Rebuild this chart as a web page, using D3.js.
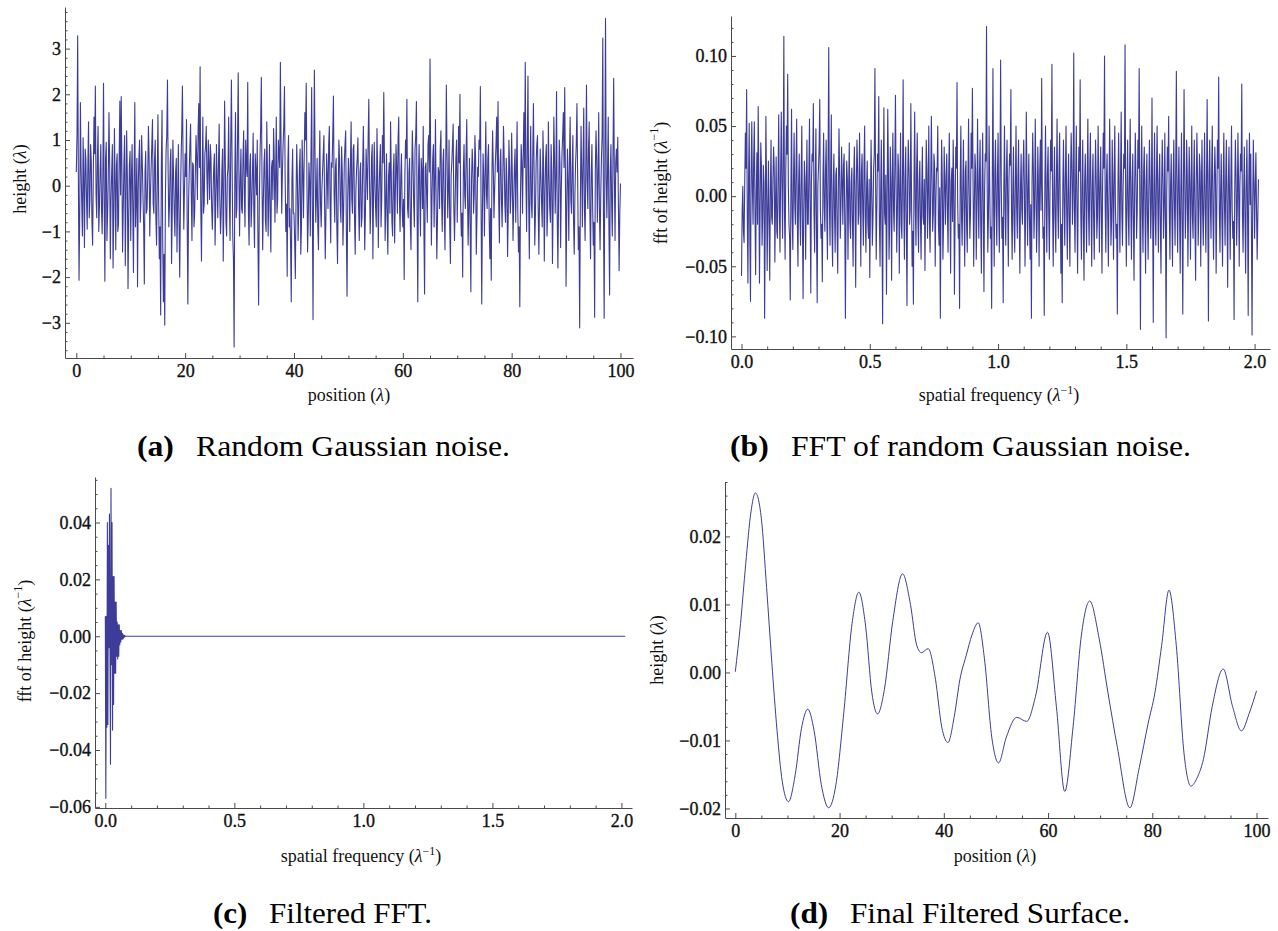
<!DOCTYPE html>
<html>
<head>
<meta charset="utf-8">
<script src="https://cdn.jsdelivr.net/npm/d3@7"></script>
<style>
body { margin: 0; background: #fff; }
text { font-family: "Liberation Serif", "Times New Roman", serif; }
</style>
</head>
<body>
<svg id="fig" width="1278" height="931"></svg>
<script>
// (a) random gaussian noise, sampled evenly over position 0..100
var noiseSpan = [0, 100];
var noiseHeight = [
 0.3, 1.1, 3.28, 0.2, -2.07, -0.6, 1.82, 0.4, -0.4, -1.1, 1.05, 0.1, -1.35, 0.8, 0.6, -0.3, -0.95, 0.5, 1.4, -0.7, -0.3, 0.9, 0.55, -0.8, -1.3, 0.3, 1.5, 0.7, 2.18, -0.2, -0.7, 0.6, 1.3, -1.0, -0.45, 0.35, 0.9, -0.5, -1.05, 0.2,
 2.24, -0.4, -2.09, 0.6, 0.95, -1.2, -0.6, 0.2, 1.6, 0.5, -1.6, -0.3, 0.3, 0.9, -1.8, -0.7, 1.25, 0.1, -1.4, 0.45, 0.7, -1.0, -0.85, 0.6, 1.85, -0.2, 1.95, 0.4, -1.45, -0.5, 0.5, 1.1, -1.75, -0.3, 1.2, 0.2, -2.25, -0.8, 0.45, 0.75,
 -1.2, 0.15, 0.9, -0.5, -1.9, 0.3, 1.82, -0.9, -0.3, 0.6, -2.21, -0.1, 0.6, 1.0, -0.8, -0.35, 1.1, 0.5, -0.2, -0.9, -2.15, 0.3, 0.75, -0.6, -0.5, 0.2, 1.3, 0.65, -1.1, -0.2, 0.4, 0.9, 1.45, -0.4, -0.6, 0.55, 1.0, -0.75, -1.3, 0.1,
 1.55, -0.3, -1.6, -0.9, -2.83, 0.4, 1.65, -1.2, -2.54, -1.5, -3.05, -0.2, 0.8, 1.1, 2.31, 0.3, -0.9, -0.4, 0.5, 0.8, -1.7, -0.6, 1.0, 0.2, -0.6, -1.1, 0.3, 0.6, -1.45, -0.3, 0.9, -0.8, -2.0, -0.5, 0.6, 1.2, 2.18, 0.4, -0.95, -0.1,
 0.7, 0.2, 1.45, -0.8, -2.59, -0.4, 0.3, 0.9, 1.35, -0.2, -1.2, 0.5, 0.45, -0.9, -0.6, 0.3, 1.1, 0.6, -0.3, 1.2, 1.8, 0.4, 2.6, -0.5, -1.65, 0.1, 1.5, -0.6, -0.4, 0.7, 0.85, 1.3, 0.2, -0.4, 1.0, 0.5, -0.3, 0.9, 0.6, -0.5,
 -0.95, -0.2, 0.4, 0.7, -1.3, -0.4, 0.9, 0.1, -0.7, 0.5, 1.35, -0.3, -1.05, -0.6, 0.3, 0.8, -1.65, -0.2, 1.85, 0.6, -0.8, -1.1, 0.2, 0.4, 1.5, -0.3, -1.2, 0.9, 2.31, 0.5, -1.1, -1.6, -3.53, 0.2, 1.6, -0.7, -0.5, 1.0, 2.47, 0.3,
 -1.1, 0.1, 0.8, -0.5, -0.6, 0.6, 1.2, -0.2, -0.9, 1.0, 0.45, 0.2, 2.26, -0.6, -1.3, 0.4, 0.7, -0.9, -0.4, 0.3, 1.15, -0.6, -1.35, 0.7, 0.3, -0.2, 1.0, -1.2, -2.61, -0.4, 0.6, 1.3, 2.37, 0.1, -1.4, -0.3, 0.5, 0.8, -0.75, -1.0,
 1.4, 0.3, -1.1, -0.2, 0.9, -0.7, -1.45, 0.4, 0.55, -0.3, 1.25, 0.6, -0.8, 0.2, 1.5, -0.6, -0.3, 1.0, 0.7, 0.4, 2.7, 0.9, -0.6, 0.3, 0.9, 1.3, 2.17, 0.2, -1.0, -0.4, -1.98, 0.5, 1.1, -0.9, -0.5, -1.3, -2.54, 0.1, 0.8, -0.6,
 -0.6, -1.2, -2.03, -0.3, 0.9, 0.2, -1.2, -0.5, 0.4, 0.8, -1.5, -0.9, 1.0, 0.3, -0.7, 0.6, 1.6, 1.0, 2.24, 0.2, -1.45, -0.7, 0.5, 0.1, -1.1, 0.7, 2.15, -0.5, -2.93, 0.4, 2.53, 0.6, -0.8, -0.2, 0.6, -0.9, -1.4, 0.3, 1.2, -0.4,
 -0.9, -0.1, 0.3, 0.7, 1.1, -0.4, -1.6, -0.6, 0.7, 0.2, -0.5, 0.9, 1.3, -0.3, -1.25, 0.5, 0.4, 1.1, 1.96, -0.2, -0.8, 0.4, 0.6, -0.9, -1.7, -0.2, 1.0, 0.6, -0.4, -0.8, 0.85, 0.3, -1.3, -0.5, 0.5, 0.9, 1.2, -1.0, -2.42, -0.3,
 0.6, 0.2, -1.0, 0.5, 1.4, -0.3, -0.6, 0.8, 0.9, -0.7, -1.5, -0.1, 0.35, 0.6, 1.05, -0.5, -1.2, 0.3, 0.5, -0.9, -0.7, 0.4, 1.3, 0.1, -1.4, -0.6, 0.8, 0.3, -0.3, 1.0, 1.89, 0.2, -1.05, -0.4, 0.6, 0.9, -1.6, -0.2, 0.95, 0.1,
 -0.5, -0.9, 1.25, 0.3, -1.35, -0.2, 0.4, 0.9, -0.9, -0.3, 1.1, 0.5, 2.04, 0.6, -1.2, -0.4, 0.7, -0.7, -1.5, 0.2, 0.5, -0.6, 1.4, 0.3, -0.8, -1.1, 0.3, 0.7, -1.25, -0.2, 0.9, 0.4, -0.6, 1.0, 1.5, -0.3, -1.0, 0.2, 0.7, -0.5,
 -0.9, -0.3, -2.05, 0.2, 1.0, 0.6, 1.89, -0.5, -0.7, 0.3, 0.6, -0.8, -1.4, 0.1, 1.2, 0.5, -0.4, -0.9, 0.8, 1.1, 1.84, -0.6, -2.54, 0.2, 0.9, -0.3, -1.1, 0.6, 0.3, -0.5, 1.3, -1.0, -2.37, 0.4, 0.5, -0.2, -0.8, 0.9, 1.1, 0.3,
 2.77, 0.4, -1.3, -0.2, 0.6, 0.9, -0.9, 0.1, 1.45, -0.4, -1.6, -0.7, 0.4, 0.3, -0.5, 0.8, 1.2, -0.3, -1.0, 0.5, 0.8, -0.6, -1.4, 0.3, 2.2, 0.7, -0.7, -0.1, 1.0, -0.9, -1.7, 0.2, 0.5, 0.9, 1.35, -0.5, -1.2, -0.3, 0.6, 1.0,
 -0.8, 0.2, 1.3, 0.5, 2.0, -0.4, -1.1, -0.6, -2.0, 0.3, 0.9, -0.2, -0.5, 0.7, 1.45, -0.1, -1.3, -0.5, 0.6, -0.9, -2.32, 0.1, 0.8, 0.4, -0.6, -0.2, 1.1, 0.6, -1.5, -0.7, 0.4, 0.2, 1.0, 0.8, 2.17, -0.3, -2.59, -0.6, 0.7, 0.2,
 -1.1, 0.3, 1.4, -0.2, -0.5, 0.6, 0.9, -0.8, -1.6, -0.5, -2.07, 0.2, 1.2, 0.4, -0.7, -0.1, 0.5, 0.9, 1.5, 0.3, 1.84, -0.4, -1.25, 0.5, 0.8, -0.3, -0.9, 0.2, 1.3, 0.6, -0.4, -0.8, 0.6, 0.1, -1.55, -0.6, 1.0, 0.4, -0.6, -0.2,
 1.15, 0.2, -1.2, -0.4, 0.4, 0.8, -0.8, 0.3, 1.4, -0.5, -1.45, -0.9, -2.65, -0.2, 0.9, 0.5, -0.6, 0.7, 1.6, 0.4, 2.7, 0.1, -1.0, 0.9, 2.4, -0.3, -1.6, 0.2, 1.3, -0.4, -0.7, 0.6, 1.8, 0.3, -1.3, -0.6, 0.5, 0.9, 1.1, -0.5,
 -1.5, -0.3, 0.8, 0.2, -0.4, -0.9, 1.2, 0.4, -1.65, -0.2, 0.6, 0.9, -1.1, -0.5, 1.4, 0.2, -0.5, -0.8, 0.9, 0.3, -1.7, -0.4, 1.5, 0.6, -0.6, 0.2, 2.06, -0.7, -1.8, -0.3, 1.0, 0.5, -1.35, -0.1, 0.7, 1.1, 1.6, 0.4, 2.15, 0.3,
 -2.2, -0.5, 0.8, 0.1, -1.2, 0.6, 1.5, -0.3, -0.6, 0.4, 1.1, -0.8, -1.5, -0.2, 0.5, 0.9, 1.8, 0.2, -1.4, -0.9, -3.11, -0.4, 1.3, 0.3, -0.9, 0.6, 1.7, -0.5, -1.2, 0.4, 2.2, 0.1, -0.5, 0.8, 1.4, -0.6, -1.6, 0.2, 0.9, -0.4,
 -1.3, -0.8, -2.88, 0.3, 1.2, 0.6, -0.8, 0.2, 1.6, -0.5, -1.4, -0.2, 0.6, 1.1, 3.23, -0.6, -2.9, 0.5, 3.66, 0.2, -0.7, 0.4, 1.5, -0.9, -2.39, 0.3, 0.9, -0.4, -1.1, 0.7, 2.35, 0.2, -1.2, 0.5, 0.8, 0.3, 1.06, -0.5, -1.86, -0.6,
 0.05
];

// (b) fft of the noise, sampled evenly over spatial frequency 0..2.015
var fftSpan = [0, 2.015];
var fftHeight = [
 -0.057, -0.01, 0.007, -0.025, -0.033, 0.01, 0.045, 0.02, 0.076, -0.015, -0.062, 0.012, 0.052, -0.03, -0.075, 0.018, 0.053, 0.005, -0.02, 0.028, 0.053, -0.012, -0.056, 0.004, 0.031, -0.02, 0.064, 0.015, -0.062, -0.008, 0.038, 0.022, -0.035, -0.015, 0.022, 0.01, -0.087, -0.02, 0.057, 0.008,
 -0.053, -0.01, 0.025, -0.02, -0.06, 0.005, 0.04, -0.015, -0.02, 0.012, 0.035, 0.02, -0.047, -0.005, 0.028, -0.025, -0.03, 0.015, 0.058, -0.01, -0.04, 0.018, 0.06, 0.01, -0.03, 0.025, 0.114, -0.012, -0.045, 0.02, 0.05, 0.03, 0.087, 0.008, -0.02, -0.03, -0.074, 0.004, 0.062, -0.015,
 -0.038, 0.01, 0.045, -0.005, -0.02, 0.022, 0.055, -0.018, -0.05, 0.008, 0.03, -0.012, -0.035, 0.015, 0.05, -0.022, -0.073, -0.01, 0.025, 0.012, -0.045, 0.005, 0.04, -0.02, -0.02, 0.018, 0.055, -0.008, -0.069, 0.01, 0.03, 0.025, 0.066, -0.012, -0.04, 0.015, 0.048, -0.03, -0.076, 0.006,
 0.02, 0.035, 0.069, -0.01, -0.03, -0.02, -0.061, 0.012, 0.045, -0.008, -0.025, 0.02, 0.04, -0.015, -0.045, 0.03, 0.106, -0.005, -0.035, 0.018, 0.058, -0.02, -0.05, 0.006, 0.03, -0.012, -0.04, 0.015, 0.02, -0.025, -0.055, 0.004, 0.048, 0.015, -0.03, -0.008, 0.035, 0.01, -0.02, 0.022,
 0.03, -0.02, -0.087, -0.01, 0.025, 0.012, -0.045, 0.005, 0.038, -0.018, -0.03, 0.01, 0.02, -0.022, -0.05, 0.015, 0.035, -0.005, -0.065, 0.008, 0.04, 0.02, -0.02, -0.012, 0.045, 0.004, -0.05, 0.018, 0.03, -0.01, -0.035, 0.022, 0.05, -0.015, -0.04, 0.006, 0.025, -0.02, -0.03, 0.012,
 -0.058, -0.01, 0.04, 0.005, -0.035, -0.015, 0.02, 0.03, 0.091, 0.012, -0.045, -0.008, 0.03, 0.018, 0.071, -0.02, -0.05, 0.004, 0.04, -0.025, -0.091, 0.01, 0.063, -0.012, -0.02, 0.015, -0.07, -0.005, 0.062, 0.02, -0.045, -0.018, 0.035, 0.008, -0.06, 0.012, 0.045, -0.01, -0.025, 0.02,
 0.072, 0.01, -0.04, -0.012, 0.03, 0.018, -0.055, 0.004, 0.045, -0.02, -0.03, 0.015, 0.083, -0.006, -0.045, 0.012, 0.035, -0.022, -0.078, 0.008, 0.04, 0.02, -0.02, -0.01, 0.066, 0.005, -0.05, -0.025, -0.077, 0.014, 0.06, -0.008, -0.035, 0.02, 0.045, -0.015, -0.04, 0.01, 0.025, -0.018,
 -0.045, 0.005, 0.035, -0.015, -0.02, 0.012, -0.053, -0.008, 0.04, 0.02, -0.03, 0.004, 0.05, -0.018, -0.04, 0.01, 0.057, 0.015, -0.025, -0.012, 0.03, 0.022, -0.05, -0.005, 0.02, 0.018, 0.05, -0.02, -0.035, 0.006, -0.087, -0.01, 0.04, 0.012, -0.045, -0.02, 0.035, 0.008, -0.02, 0.015,
 0.03, -0.01, -0.04, 0.015, 0.045, -0.005, -0.055, 0.01, 0.02, -0.018, 0.04, 0.008, -0.07, -0.012, 0.035, 0.02, 0.081, -0.004, -0.03, -0.02, -0.08, 0.012, 0.05, -0.015, -0.035, 0.006, 0.04, -0.01, -0.05, 0.018, 0.025, -0.022, -0.04, 0.01, 0.055, 0.004, -0.03, -0.012, 0.045, 0.02,
 0.077, 0.012, -0.05, -0.008, 0.03, 0.018, -0.045, -0.01, 0.055, 0.006, -0.03, 0.015, 0.04, -0.02, -0.055, 0.008, 0.045, -0.012, -0.068, 0.004, 0.03, 0.025, 0.121, 0.01, -0.04, -0.015, 0.05, 0.005, -0.03, -0.022, -0.08, 0.012, 0.091, -0.006, -0.05, 0.018, 0.04, -0.01, -0.035, 0.014,
 0.045, -0.012, -0.04, 0.02, 0.097, 0.008, -0.03, -0.015, -0.076, 0.005, 0.05, -0.01, -0.035, 0.018, 0.04, -0.006, -0.05, 0.012, 0.03, 0.022, 0.076, -0.014, -0.045, 0.004, 0.035, -0.02, -0.04, 0.01, 0.05, -0.008, -0.03, 0.015, 0.04, -0.018, -0.055, 0.006, 0.03, -0.01, -0.02, 0.02,
 0.04, 0.008, -0.05, -0.012, 0.06, 0.015, -0.035, 0.004, 0.03, -0.018, -0.045, -0.006, -0.087, 0.01, 0.045, 0.02, -0.03, -0.008, 0.055, 0.012, -0.04, -0.015, 0.035, 0.005, -0.05, 0.018, 0.04, -0.01, 0.084, 0.006, -0.03, -0.022, -0.085, 0.01, 0.05, -0.004, -0.04, 0.016, 0.035, -0.012,
 -0.045, 0.006, 0.04, 0.018, 0.094, -0.01, -0.05, 0.004, 0.035, -0.016, -0.04, 0.012, 0.055, -0.005, -0.03, 0.02, 0.045, -0.012, -0.055, -0.02, -0.076, 0.008, 0.04, -0.006, -0.035, 0.015, 0.05, -0.01, -0.045, 0.004, 0.03, -0.018, -0.05, 0.012, 0.045, 0.02, -0.02, 0.006, 0.102, -0.01,
 -0.04, 0.012, 0.05, -0.008, -0.055, 0.004, 0.035, 0.018, 0.083, -0.012, -0.045, 0.006, 0.04, -0.02, -0.06, 0.01, 0.03, -0.005, -0.04, 0.015, 0.055, -0.01, -0.035, 0.02, 0.045, -0.006, -0.05, 0.008, 0.03, -0.016, -0.045, 0.004, 0.04, 0.012, -0.03, -0.014, 0.05, 0.006, -0.04, 0.01,
 0.035, -0.01, -0.055, 0.008, 0.045, 0.02, 0.1, -0.006, -0.04, 0.012, 0.03, -0.015, -0.05, 0.004, 0.055, 0.01, -0.035, -0.018, 0.04, 0.006, -0.045, 0.014, 0.05, -0.008, -0.03, -0.02, -0.084, 0.01, 0.045, -0.004, -0.04, 0.016, 0.06, -0.012, -0.035, 0.006, 0.03, 0.02, 0.108, -0.008,
 -0.05, 0.004, 0.04, -0.012, -0.035, 0.016, 0.055, -0.006, -0.045, 0.01, 0.03, -0.018, -0.06, 0.008, 0.045, 0.014, -0.03, -0.01, 0.04, 0.02, 0.091, -0.004, -0.095, 0.006, 0.05, -0.012, -0.04, 0.018, 0.035, -0.008, -0.055, 0.01, 0.03, -0.016, -0.045, 0.004, 0.04, 0.012, -0.03, -0.006,
 0.07, -0.01, -0.09, 0.008, 0.045, -0.014, -0.035, 0.016, 0.05, -0.004, -0.04, 0.012, 0.03, -0.02, -0.055, 0.006, 0.04, 0.014, -0.03, -0.008, 0.045, -0.016, -0.101, 0.004, 0.035, 0.018, 0.057, -0.01, -0.045, 0.008, 0.03, -0.014, -0.05, 0.012, 0.04, -0.006, -0.035, 0.02, 0.089, -0.004,
 -0.04, 0.01, 0.035, -0.012, -0.055, 0.006, 0.045, -0.018, -0.084, 0.004, 0.076, 0.014, -0.03, -0.008, 0.04, 0.016, -0.05, -0.006, 0.035, 0.01, -0.045, 0.004, 0.05, -0.014, -0.03, 0.012, 0.04, -0.02, -0.06, 0.008, 0.045, 0.014, -0.035, -0.01, 0.03, 0.018, -0.05, 0.006, 0.04, -0.012,
 -0.035, 0.008, 0.045, -0.01, -0.04, 0.012, 0.069, -0.006, -0.089, 0.016, 0.04, -0.004, -0.03, 0.018, 0.05, -0.012, -0.045, 0.006, 0.035, 0.014, -0.055, -0.008, 0.04, 0.02, 0.085, -0.01, -0.04, 0.004, 0.03, -0.016, -0.05, 0.01, 0.045, -0.006, -0.035, 0.014, 0.04, -0.012, -0.065, 0.008,
 0.035, -0.006, -0.045, 0.012, 0.05, -0.01, -0.03, -0.018, -0.088, 0.004, 0.04, 0.016, -0.035, -0.008, 0.045, 0.01, -0.05, 0.006, 0.03, 0.018, 0.08, -0.012, -0.04, 0.004, 0.035, -0.016, -0.055, 0.008, 0.04, -0.01, -0.085, 0.012, 0.045, -0.006, 0.03, -0.02, -0.099, -0.008, 0.04, 0.01,
 -0.03, 0.006, 0.031, -0.01, -0.045, -0.015, 0.012
];

// (c) filtered fft: only the lowest frequencies survive
var filtFreq = [0, 0.002, 0.004, 0.006, 0.008, 0.010, 0.012, 0.014, 0.016, 0.018, 0.020, 0.022, 0.024, 0.026, 0.028, 0.030,
  0.032, 0.034, 0.036, 0.038, 0.040, 0.042, 0.044, 0.046, 0.048, 0.050, 0.052, 0.054, 0.056, 0.058, 0.060, 0.062,
  0.064, 0.066, 0.068, 0.070, 0.072, 0.074, 0.076, 0.078, 0.080, 2.015];
var filtFft = [0.007, -0.057, 0.007, -0.032, 0.040, -0.031, 0.032, -0.004, 0.043, -0.004, -0.045, 0.052, -0.010, 0.040, -0.033, 0.021,
  -0.024, 0.021, -0.013, 0.012, -0.013, 0.012, -0.007, 0.005, -0.008, 0.004, -0.007, 0.004, -0.003, 0.002, -0.002, 0.002,
  -0.001, 0.001, -0.001, 0.0005, -0.0005, 0.0003, -0.0002, 0.0001, 0, 0];

// (d) final filtered surface
var surfPos = [0, 1, 2, 3, 3.86, 5, 6, 7, 8, 9, 10.2, 11.5, 12.7, 13.9, 15.1, 16.5, 17.9, 19.3, 20.8, 22.4,
  23.7, 25, 26.2, 27.3, 28.6, 30.2, 32.1, 33.6, 34.8, 35.7, 37, 38.4, 39.6, 40.8, 42, 43.1, 44.3, 45.4, 46.6, 47.8,
  49.2, 50.5, 52, 54, 55.9, 57.6, 59.9, 61.6, 63.2, 64.8, 66.4, 68, 69.8, 71.5, 73.3, 75.7, 77.5, 79.2, 80.5, 81.8,
  83.2, 84.6, 86.1, 87.4, 88.6, 89.8, 91.5, 93.6, 95.4, 97.1, 98.6, 100];
var surfHeight = [0.0001, 0.0072, 0.0160, 0.0236, 0.0264, 0.0226, 0.0125, 0.0015, -0.0085, -0.0160, -0.0190, -0.0150, -0.0082, -0.0054, -0.0085, -0.0165, -0.0199, -0.0165, -0.0060, 0.0072,
  0.0118, 0.0068, -0.0030, -0.0061, -0.0025, 0.0075, 0.0145, 0.0100, 0.0040, 0.0029, 0.0035, -0.0010, -0.0080, -0.0103, -0.0065, -0.0010, 0.0025, 0.0055, 0.0073, 0.0020,
  -0.0095, -0.0133, -0.0095, -0.0066, -0.0072, -0.0035, 0.0059, -0.0050, -0.0175, -0.0080, 0.0055, 0.0105, 0.0050, -0.0030, -0.0110, -0.0199, -0.0140, -0.0075, -0.0030, 0.0040,
  0.0121, 0.0040, -0.0120, -0.0167, -0.0155, -0.0128, -0.0050, 0.0005, -0.0050, -0.0086, -0.0060, -0.0027];

// tick labels
var posTicks = [0, 20, 40, 60, 80, 100];
var freqTicks = [0, 0.5, 1, 1.5, 2];
var noiseTicks = [-3, -2, -1, 0, 1, 2, 3];
var fftTicks = [-0.10, -0.05, 0, 0.05, 0.10];
var filtTicks = [-0.06, -0.04, -0.02, 0, 0.02, 0.04];
var surfTicks = [-0.02, -0.01, 0, 0.01, 0.02];

var lineColor = "#3d3d99";
var axisColor = "#4a4a4a";
var serif = "'Liberation Serif', 'Times New Roman', serif";
var svg = d3.select("#fig");
svg.append("rect").attr("width", 1278).attr("height", 931).attr("fill", "#fff");

function evenly(span, vals) {
  var step = (span[1] - span[0]) / (vals.length - 1);
  return vals.map(function(v, i) { return [span[0] + i * step, v]; });
}
function zip(xs, ys) {
  return xs.map(function(v, i) { return [v, ys[i]]; });
}
function minorTicks(domain, step, majors) {
  var out = [];
  for (var k = Math.ceil(domain[0] / step); k * step <= domain[1]; k++) {
    var v = +(k * step).toFixed(6);
    if (!majors.some(function(m) { return Math.abs(m - v) < step / 10; })) out.push(v);
  }
  return out;
}

// axis label with an italic lambda, optional ^-1
function lambdaLabel(sel, before, inverse) {
  sel.append("tspan").text(before + "(");
  sel.append("tspan").attr("font-style", "italic").text("\u03bb");
  if (inverse) {
    sel.append("tspan").attr("font-size", 12).attr("dy", -7).text("\u22121");
    sel.append("tspan").attr("dy", 7).text(")");
  } else {
    sel.append("tspan").text(")");
  }
}

function drawPanel(p) {
  var x = d3.scaleLinear().domain(p.xDomain).range([p.left, p.right]);
  var y = d3.scaleLinear().domain(p.yDomain).range([p.bottom, p.top]);
  var g = svg.append("g");

  // minor ticks
  g.append("g").attr("class", "minor")
    .attr("transform", "translate(0," + p.bottom + ")")
    .call(d3.axisBottom(x).tickValues(minorTicks(p.xDomain, p.xMinor, p.xTicks)).tickSize(-2.5).tickFormat(""));
  g.append("g").attr("class", "minor")
    .attr("transform", "translate(" + p.left + ",0)")
    .call(d3.axisLeft(y).tickValues(minorTicks(p.yDomain, p.yMinor, p.yTicks)).tickSize(-2.5).tickFormat(""));
  g.selectAll(".minor .domain").remove();

  // major ticks + axis lines
  g.append("g").attr("class", "major")
    .attr("transform", "translate(0," + p.bottom + ")")
    .call(d3.axisBottom(x).tickValues(p.xTicks).tickSizeInner(-5).tickSizeOuter(0).tickPadding(6).tickFormat(d3.format(p.xFmt)));
  g.append("g").attr("class", "major")
    .attr("transform", "translate(" + p.left + ",0)")
    .call(d3.axisLeft(y).tickValues(p.yTicks).tickSizeInner(-5).tickSizeOuter(0).tickPadding(4).tickFormat(d3.format(p.yFmt)));

  g.selectAll(".major, .minor").attr("font-family", serif);
  g.selectAll(".domain, .tick line").attr("stroke", axisColor).attr("stroke-width", 1);
  g.selectAll(".tick text").attr("fill", "#111").attr("font-size", 18)
    .style("font-family", serif)
    .attr("stroke", "#111").attr("stroke-width", 0.35);

  // the trace
  g.append("path")
    .datum(p.points)
    .attr("fill", "none")
    .attr("stroke", lineColor)
    .attr("stroke-width", p.width)
    .attr("stroke-linejoin", "round")
    .attr("d", d3.line().curve(p.curve).x(function(d) { return x(d[0]); }).y(function(d) { return y(d[1]); }));

  // axis labels
  var xl = g.append("text").attr("x", p.xLabelAt[0]).attr("y", p.xLabelAt[1])
    .attr("text-anchor", "middle").attr("font-size", 18).attr("fill", "#111");
  lambdaLabel(xl, p.xLabel, p.xInverse);
  var yl = g.append("text")
    .attr("transform", "translate(" + p.yLabelAt[0] + "," + p.yLabelAt[1] + ") rotate(-90)")
    .attr("text-anchor", "middle").attr("dominant-baseline", "central")
    .attr("font-size", 18).attr("fill", "#111");
  lambdaLabel(yl, p.yLabel, p.yInverse);

  // caption
  var cap = svg.append("text").attr("x", p.caption.x).attr("y", p.caption.y)
    .attr("font-size", 30).attr("fill", "#000")
    .attr("textLength", p.caption.w).attr("lengthAdjust", "spacingAndGlyphs");
  cap.append("tspan").attr("font-weight", "bold").text("(" + p.caption.tag + ")");
  cap.append("tspan").text("\u2002\u2009" + p.caption.text);
}

drawPanel({
  left: 65, right: 633, top: 7, bottom: 358,
  xDomain: [-2.08, 102.3], yDomain: [-3.77, 3.91],
  xTicks: posTicks, yTicks: noiseTicks, xMinor: 5, yMinor: 0.2, xFmt: "d", yFmt: "d",
  points: evenly(noiseSpan, noiseHeight), curve: d3.curveLinear, width: 1.1,
  xLabel: "position ", xLabelAt: [349, 401], yLabel: "height ", yLabelAt: [20, 179],
  caption: { tag: "a", text: "Random Gaussian noise.", x: 137, y: 456, w: 373 }
});

drawPanel({
  left: 731, right: 1270, top: 16, bottom: 349,
  xDomain: [-0.041, 2.06], yDomain: [-0.109, 0.1285],
  xTicks: freqTicks, yTicks: fftTicks, xMinor: 0.1, yMinor: 0.01, xFmt: ".1f", yFmt: ".2f",
  points: evenly(fftSpan, fftHeight), curve: d3.curveLinear, width: 1.1,
  xLabel: "spatial frequency ", xInverse: true, xLabelAt: [999, 401],
  yLabel: "fft of height ", yInverse: true, yLabelAt: [661, 183],
  caption: { tag: "b", text: "FFT of random Gaussian noise.", x: 730, y: 456, w: 461 }
});

drawPanel({
  left: 95, right: 632, top: 477, bottom: 808,
  xDomain: [-0.04, 2.041], yDomain: [-0.0604, 0.056],
  xTicks: freqTicks, yTicks: filtTicks, xMinor: 0.1, yMinor: 0.005, xFmt: ".1f", yFmt: ".2f",
  points: zip(filtFreq, filtFft), curve: d3.curveLinear, width: 1.1,
  xLabel: "spatial frequency ", xInverse: true, xLabelAt: [361, 862],
  yLabel: "fft of height ", yInverse: true, yLabelAt: [25, 641],
  caption: { tag: "c", text: "Filtered FFT.", x: 213, y: 923, w: 219 }
});

drawPanel({
  left: 725, right: 1268, top: 482, bottom: 818,
  xDomain: [-1.98, 102.2], yDomain: [-0.0214, 0.028],
  xTicks: posTicks, yTicks: surfTicks, xMinor: 5, yMinor: 0.002, xFmt: "d", yFmt: ".2f",
  points: zip(surfPos, surfHeight), curve: d3.curveMonotoneX, width: 1,
  xLabel: "position ", xLabelAt: [995, 862], yLabel: "height ", yLabelAt: [657, 650],
  caption: { tag: "d", text: "Final Filtered Surface.", x: 790, y: 923, w: 340 }
});
</script>
</body>
</html>
